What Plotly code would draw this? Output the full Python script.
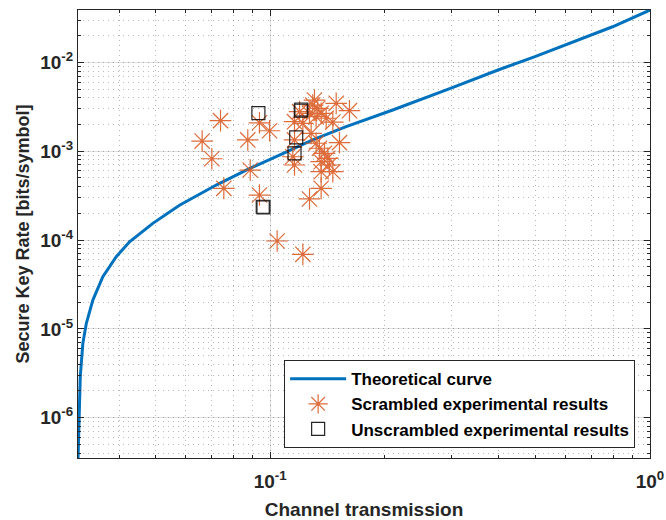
import plotly.graph_objects as go

# Theoretical curve
curve_x = [0.0312, 0.03135, 0.03162, 0.03212, 0.0328, 0.03413, 0.03626, 0.03933, 0.04263,
           0.04909, 0.0577, 0.0721, 0.0865, 0.1058, 0.1294, 0.1585, 0.194, 0.2102, 0.2982,
           0.398, 0.498, 0.601, 0.797, 1.0]
curve_y = [3.5e-7, 1.02e-6, 2.89e-6, 6.87e-6, 1.15e-5, 2.11e-5, 3.86e-5, 6.49e-5, 9.57e-5,
           1.54e-4, 2.47e-4, 4.16e-4, 6.14e-4, 9.06e-4, 1.34e-3, 1.89e-3, 2.56e-3, 2.91e-3, 5.11e-3,
           8.21e-3, 1.16e-2, 1.57e-2, 2.52e-2, 3.89e-2]

# Scrambled experimental results
scr_x = [0.0740, 0.0662, 0.0702, 0.0755, 0.0873, 0.0886, 0.0937, 0.0996, 0.0937, 0.1043,
         0.1219, 0.1269, 0.1195, 0.1159, 0.1219, 0.1308, 0.1294, 0.1334, 0.1362, 0.1321,
         0.1269, 0.1404, 0.1492, 0.1617, 0.1462, 0.1282, 0.1522, 0.1159, 0.1321, 0.1348,
         0.1390, 0.1418, 0.1147, 0.1159, 0.1362, 0.1432, 0.1462, 0.1362, 0.1362]
scr_y = [2.21e-3, 1.30e-3, 8.23e-4, 3.82e-4, 1.34e-3, 6.14e-4, 2.09e-3, 1.70e-3, 3.21e-4, 9.75e-5,
         6.90e-5, 2.90e-4, 2.79e-3, 2.15e-3, 2.06e-3, 3.77e-3, 3.31e-3, 3.04e-3, 2.67e-3, 2.45e-3,
         2.67e-3, 2.35e-3, 3.46e-3, 2.86e-3, 2.13e-3, 1.59e-3, 1.25e-3, 1.34e-3, 1.23e-3, 1.08e-3,
         9.47e-4, 8.32e-4, 8.67e-4, 7.0e-4, 7.62e-4, 7.0e-4, 5.88e-4, 5.88e-4, 3.82e-4]

# Unscrambled experimental results
uns_x = [0.0931, 0.1204, 0.1208, 0.1171, 0.1159, 0.0956, 0.0960]
uns_y = [2.69e-3, 2.86e-3, 2.95e-3, 1.43e-3, 9.47e-4, 2.37e-4, 2.33e-4]

# Tick labels
x_tickvals = [0.1, 1]
x_ticktext = ["10<sup>-1</sup>", "10<sup>0</sup>"]
y_tickvals = [1e-6, 1e-5, 1e-4, 1e-3, 1e-2]
y_ticktext = ["10<sup>-6</sup>", "10<sup>-5</sup>", "10<sup>-4</sup>", "10<sup>-3</sup>", "10<sup>-2</sup>"]

FONT = "Liberation Sans, Arial, sans-serif"
INK = "#262626"

fig = go.Figure()
fig.add_trace(go.Scatter(x=curve_x, y=curve_y, mode="lines", name="Theoretical curve",
                         line=dict(color="#0072BD", width=3)))
fig.add_trace(go.Scatter(x=scr_x, y=scr_y, mode="markers", name="Scrambled experimental results",
                         marker=dict(symbol="asterisk-open", size=18, color="#D95319",
                                     line=dict(color="#D95319", width=1.2)), opacity=0.85))
fig.add_trace(go.Scatter(x=uns_x, y=uns_y, mode="markers", name="Unscrambled experimental results",
                         marker=dict(symbol="square-open", size=13, color="#000000",
                                     line=dict(color="#000000", width=1.2)), opacity=0.85))

axis_common = dict(
    type="log", tickmode="array", showline=True, linecolor=INK, automargin=False,
    linewidth=1, mirror="ticks", ticks="inside", ticklen=6, tickcolor=INK,
    showgrid=True, gridcolor="rgba(0,0,0,0.12)", gridwidth=1, zeroline=False,
    tickfont=dict(family=FONT, size=19, color=INK, weight="bold"),
    minor=dict(dtick="D1", ticks="inside", ticklen=3, tickcolor=INK, showgrid=True,
               gridcolor="rgba(0,0,0,0.28)", griddash="1px,4px", gridwidth=1),
)

fig.update_xaxes(**axis_common, range=[-1.506, 0], tickvals=x_tickvals, ticktext=x_ticktext,
                 ticklabelstandoff=6,
                 title=dict(text="Channel transmission", standoff=18,
                            font=dict(family=FONT, size=19, color=INK, weight="bold")))
fig.update_yaxes(**axis_common, range=[-6.454, -1.41], tickvals=y_tickvals, ticktext=y_ticktext,
                 title=dict(text="Secure Key Rate [bits/symbol]", standoff=5,
                            font=dict(family=FONT, size=18, color=INK, weight="bold")))

fig.update_layout(
    width=666, height=520, margin=dict(l=78, r=16, t=10, b=62),
    plot_bgcolor="white", paper_bgcolor="white",
    legend=dict(x=0.974, y=0.022, xanchor="right", yanchor="bottom",
                bgcolor="white", bordercolor=INK, borderwidth=1,
                font=dict(family=FONT, size=17, color="#000000", weight="bold"),
                itemwidth=56, tracegroupgap=0),
    showlegend=True,
)

fig.write_html("out.html")
